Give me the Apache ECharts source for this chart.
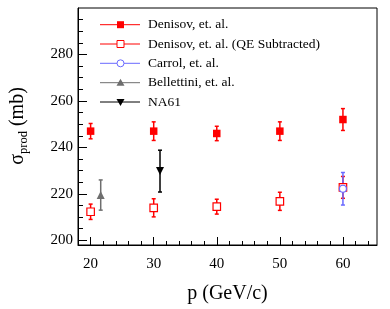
<!DOCTYPE html>
<html><head><meta charset="utf-8">
<script src="https://cdn.jsdelivr.net/npm/echarts@6/dist/echarts.min.js"></script>
<style>html,body{margin:0;padding:0;background:#fff}#c{width:390px;height:309px}</style>
</head><body><div id="c"></div>
<script>
// ---- data ----
const denisovX = [20, 30, 40, 50, 60];
const denisovY = [247, 247, 246, 247, 252];
const denisovErr = [3.3, 4.0, 3.1, 4.0, 4.7];
const qeX = [20, 30, 40, 50, 60];
const qeY = [212.3, 214.0, 214.5, 216.8, 222.8];
const qeErr = [3.3, 3.9, 3.2, 3.9, 4.7];
const carrolX = [60];
const carrolY = [222.2];
const carrolErr = [7.0];
const bellX = [21.6];
const bellY = [219.5];
const bellErr = [6.5];
const na61X = [31];
const na61Y = [229.8];
const na61Err = [9.0];
const xMajor = [20, 30, 40, 50, 60];
const xMinor = [18, 20, 22, 24, 26, 28, 30, 32, 34, 36, 38, 40, 42, 44, 46, 48, 50, 52, 54, 56, 58, 60, 62, 64];
const yMajor = [200, 220, 240, 260, 280];
const yMinor = [200, 205, 210, 215, 220, 225, 230, 235, 240, 245, 250, 255, 260, 265, 270, 275, 280, 285, 290, 295];
const legendNames = ['Denisov, et. al.', 'Denisov, et. al. (QE Subtracted)', 'Carrol, et. al.', 'Bellettini, et. al.', 'NA61'];

const RED = '#ff0000', BLUE = '#6a6aff', GRAY = '#6e6e6e', BLACK = '#000000';
const FONT = '"Liberation Serif", "DejaVu Serif", serif';

function pts(xs, ys, es) { return xs.map((x, i) => [x, ys[i], es[i]]); }

function errSeries(data, color) {
  return {
    type: 'custom', xAxisIndex: 0, yAxisIndex: 0, z: 2,
    data: data,
    renderItem: function (params, api) {
      const x = api.value(0), y = api.value(1), e = api.value(2);
      const top = api.coord([x, y + e]);
      const bot = api.coord([x, y - e]);
      const st = { stroke: color, lineWidth: 1.5 };
      return {
        type: 'group', children: [
          { type: 'line', shape: { x1: top[0], y1: top[1], x2: bot[0], y2: bot[1] }, style: st },
          { type: 'line', shape: { x1: top[0] - 2, y1: top[1], x2: top[0] + 2, y2: top[1] }, style: st },
          { type: 'line', shape: { x1: bot[0] - 2, y1: bot[1], x2: bot[0] + 2, y2: bot[1] }, style: st }
        ]
      };
    }
  };
}
function markSeries(data, symbol, size, color, fill, rotate) {
  return {
    type: 'scatter', xAxisIndex: 0, yAxisIndex: 0, z: 3,
    data: data.map(d => [d[0], d[1]]),
    symbol: symbol, symbolSize: size, symbolRotate: rotate || 0,
    itemStyle: { color: fill, borderColor: color, borderWidth: fill === color ? 0 : 1.2, opacity: 1 },
    emphasis: { disabled: true }
  };
}

const chart = echarts.init(document.getElementById('c'), null, { renderer: 'canvas' });

const axisBaseX = { type: 'value', min: 18, max: 65.4, gridIndex: 0, position: 'bottom', splitLine: { show: false } };
const axisBaseY = { type: 'value', min: 198, max: 300, gridIndex: 0, position: 'left', splitLine: { show: false } };

// legend graphic
const legendG = [];
const legRows = [24.7, 44, 63.3, 82.7, 102];
const legCol = [RED, RED, BLUE, GRAY, BLACK];
const legSym = ['rect', 'emptyRect', 'circle', 'triangle', 'dtriangle'];
legRows.forEach((y, i) => {
  legendG.push({ type: 'line', shape: { x1: 100, y1: y, x2: 140, y2: y }, style: { stroke: legCol[i], lineWidth: 1 } });
  const s = legSym[i];
  if (s === 'rect') legendG.push({ type: 'rect', shape: { x: 117, y: y - 3.5, width: 7, height: 7 }, style: { fill: RED } });
  if (s === 'emptyRect') legendG.push({ type: 'rect', shape: { x: 117, y: y - 3.5, width: 7, height: 7 }, style: { fill: '#fff', stroke: RED, lineWidth: 1 } });
  if (s === 'circle') legendG.push({ type: 'circle', shape: { cx: 120.5, cy: y, r: 3.5 }, style: { fill: '#fff', stroke: BLUE, lineWidth: 1 } });
  if (s === 'triangle') legendG.push({ type: 'polygon', shape: { points: [[116.5, y + 3], [124.5, y + 3], [120.5, y - 4]] }, style: { fill: GRAY } });
  if (s === 'dtriangle') legendG.push({ type: 'polygon', shape: { points: [[116.5, y - 3], [124.5, y - 3], [120.5, y + 4]] }, style: { fill: BLACK } });
  legendG.push({ type: 'text', x: 148, y: y, style: { text: legendNames[i], fontFamily: FONT, fontSize: 13.5, fill: '#000', verticalAlign: 'middle', textAlign: 'left' } });
});

chart.setOption({
  animation: false,
  backgroundColor: '#fff',
  grid: { left: 78, right: 13, top: 8, bottom: 52, show: true, borderColor: '#000', borderWidth: 1, backgroundColor: 'transparent' },
  xAxis: [
    Object.assign({}, axisBaseX, {
      axisLine: { show: true, lineStyle: { color: '#000', width: 1 } },
      axisTick: { show: true, inside: true, length: 8, customValues: xMajor, lineStyle: { color: '#000' } },
      axisLabel: { show: true, customValues: xMajor, margin: 12, color: '#000', fontFamily: FONT, fontSize: 15 },
      name: 'p (GeV/c)', nameLocation: 'middle', nameGap: 39,
      nameTextStyle: { color: '#000', fontFamily: FONT, fontSize: 20 }
    }),
    Object.assign({}, axisBaseX, {
      axisLine: { show: false },
      axisTick: { show: true, inside: true, length: 4, customValues: xMinor, lineStyle: { color: '#000' } },
      axisLabel: { show: false }
    })
  ],
  yAxis: [
    Object.assign({}, axisBaseY, {
      axisLine: { show: true, lineStyle: { color: '#000', width: 1 } },
      axisTick: { show: true, inside: true, length: 9, customValues: yMajor, lineStyle: { color: '#000' } },
      axisLabel: { show: true, customValues: yMajor, margin: 5, color: '#000', fontFamily: FONT, fontSize: 15 }
    }),
    Object.assign({}, axisBaseY, {
      axisLine: { show: false },
      axisTick: { show: true, inside: true, length: 5, customValues: yMinor, lineStyle: { color: '#000' } },
      axisLabel: { show: false }
    })
  ],
  graphic: legendG.concat([
    {
      type: 'text', x: 19, y: 126, rotation: Math.PI / 2,
      style: {
        text: '{a|σ}{b|prod}{a| (mb)}', textAlign: 'center', verticalAlign: 'middle',
        rich: {
          a: { fontFamily: FONT, fontSize: 20, fill: '#000', verticalAlign: 'top', lineHeight: 22 },
          b: { fontFamily: FONT, fontSize: 12.5, fill: '#000', verticalAlign: 'bottom', lineHeight: 13 }
        }
      }
    }
  ]),
  series: [
    errSeries(pts(denisovX, denisovY, denisovErr), RED),
    errSeries(pts(qeX, qeY, qeErr), RED),
    errSeries(pts(bellX, bellY, bellErr), GRAY),
    errSeries(pts(na61X, na61Y, na61Err), BLACK),
    markSeries(pts(denisovX, denisovY, denisovErr), 'rect', 7.5, RED, RED),
    markSeries(pts(qeX, qeY, qeErr), 'rect', 7.5, RED, '#ffffff'),
    markSeries(pts(bellX, bellY, bellErr), 'triangle', 8, GRAY, GRAY),
    markSeries(pts(na61X, na61Y, na61Err), 'triangle', 8, BLACK, BLACK, 180),
    errSeries(pts(carrolX, carrolY, carrolErr), BLUE),
    markSeries(pts(carrolX, carrolY, carrolErr), 'circle', 7, BLUE, '#ffffff')
  ]
});
</script></body></html>
